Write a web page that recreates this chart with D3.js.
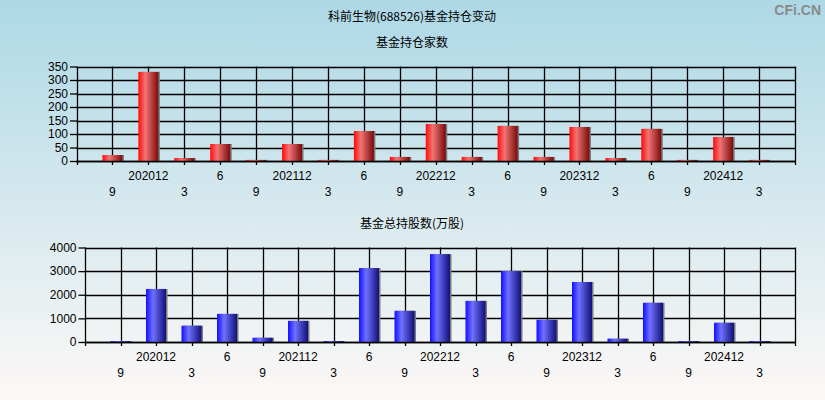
<!DOCTYPE html>
<html><head><meta charset="utf-8">
<script src="https://cdn.jsdelivr.net/npm/d3@7"></script>
<style>
html,body{margin:0;padding:0;}
svg{display:block;}
</style>
</head><body>
<svg id="c" width="825" height="400"></svg>
<script>
const categories = ["9","202012","3","6","9","202112","3","6","9","202212","3","6","9","202312","3","6","9","202412","3"];
const fundCount = [22,330,11,63,4,63,4,111,15,137,15,130,15,126,11,119,4,89,4];
const fundShares = [40,2245,690,1190,180,895,40,3130,1320,3720,1740,3000,940,2540,140,1660,40,815,40];
const countTicks = [0,50,100,150,200,250,300,350];
const shareTicks = [0,1000,2000,3000,4000];

const svg = d3.select("#c");
const defs = svg.append("defs");
const bg = defs.append("linearGradient").attr("id","bg").attr("x1",0).attr("y1",0).attr("x2",0).attr("y2",1);
bg.append("stop").attr("offset","0%").attr("stop-color","#add8e6");
bg.append("stop").attr("offset","100%").attr("stop-color","#fdf8f6");
function barGrad(id, c0, c1, c2){
  const g = defs.append("linearGradient").attr("id",id).attr("x1",0).attr("y1",0).attr("x2",1).attr("y2",0);
  g.append("stop").attr("offset","0%").attr("stop-color",c0);
  g.append("stop").attr("offset","35%").attr("stop-color",c1);
  g.append("stop").attr("offset","100%").attr("stop-color",c2);
}
barGrad("gr","#ff0a0a","#f27474","#7a0a0a");
barGrad("gb","#1010ff","#7070ff","#10107a");

svg.append("rect").attr("width",825).attr("height",400).attr("fill","url(#bg)");

const cjk = "'Noto Sans CJK SC', sans-serif";
const lat = "'Liberation Sans', Arial, sans-serif";

svg.append("text").attr("x",412).attr("y",21).attr("text-anchor","middle")
  .attr("font-family",cjk).attr("font-size",12).attr("fill","#000").text("科前生物(688526)基金持仓变动");
svg.append("text").attr("x",821).attr("y",15).attr("text-anchor","end")
  .attr("font-family",lat).attr("font-weight","bold").attr("font-size",14).attr("fill","#8a8a8a").text("CFi.CN");

function drawChart(opts){
  const {title, titleY, left, right, top, bottom, values, ticks, grad} = opts;
  svg.append("text").attr("x",412).attr("y",titleY).attr("text-anchor","middle")
    .attr("font-family",cjk).attr("font-size",12).attr("fill","#000").text(title);
  const x = d3.scaleLinear().domain([0, categories.length+1]).range([left,right]);
  const y = d3.scaleLinear().domain([0, ticks[ticks.length-1]]).range([bottom,top]);
  const g = svg.append("g");
  g.selectAll(".hg").data(ticks).enter().append("line")
    .attr("x1",left).attr("x2",right).attr("y1",d=>Math.round(y(d))+0.5).attr("y2",d=>Math.round(y(d))+0.5)
    .attr("stroke","#000").attr("stroke-width",1.3);
  const xt = d3.range(categories.length+2);
  g.selectAll(".vg").data(xt).enter().append("line")
    .attr("x1",d=>Math.round(x(d))+0.5).attr("x2",d=>Math.round(x(d))+0.5)
    .attr("y1",top).attr("y2",bottom+4)
    .attr("stroke","#000").attr("stroke-width",1.3);
  const ya = d3.axisLeft(y).tickValues(ticks).tickFormat(d3.format("d")).tickSize(7).tickPadding(2);
  const yg = svg.append("g").attr("transform",`translate(${left+0.5},0)`).call(ya);
  yg.select(".domain").remove();
  yg.selectAll("line").attr("stroke","#000").attr("stroke-width",1.3);
  yg.selectAll("text").attr("font-family",lat).attr("font-size",12).attr("fill","#000");
  const bw = 20;
  const idx = values.map((v,i)=>i);
  g.selectAll(".sh").data(idx).enter().append("rect")
    .attr("x",i=>x(i+1)-bw/2+1.5).attr("width",bw)
    .attr("y",i=>y(values[i])).attr("height",i=>bottom-y(values[i]))
    .attr("fill","#7a7a7a");
  g.selectAll(".b").data(idx).enter().append("rect")
    .attr("x",i=>x(i+1)-bw/2).attr("width",bw)
    .attr("y",i=>y(values[i])).attr("height",i=>bottom-y(values[i]))
    .attr("fill",`url(#${grad})`);
  g.append("line").attr("x1",left).attr("x2",right).attr("y1",Math.round(y(0))+0.5).attr("y2",Math.round(y(0))+0.5)
    .attr("stroke","#000").attr("stroke-width",1.3);
  g.selectAll(".xl").data(categories).enter().append("text")
    .attr("x",(d,i)=>x(i+1)).attr("y",(d,i)=> i%2===1 ? bottom+19 : bottom+35)
    .attr("text-anchor","middle").attr("font-family",lat).attr("font-size",12).attr("fill","#000")
    .text(d=>d);
}

drawChart({title:"基金持仓家数", titleY:47, left:76.5, right:795, top:66.5, bottom:161, values:fundCount, ticks:countTicks, grad:"gr"});
drawChart({title:"基金总持股数(万股)", titleY:228, left:85, right:795, top:247.5, bottom:342, values:fundShares, ticks:shareTicks, grad:"gb"});
</script>
</body></html>
